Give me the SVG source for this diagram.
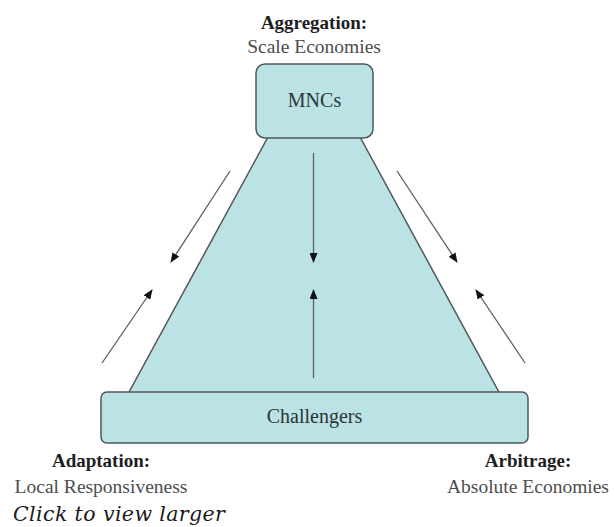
<svg xmlns="http://www.w3.org/2000/svg" width="614" height="527" viewBox="0 0 614 527">
  <style>
    .shape { fill: #bbe2e5; stroke: #4f5858; stroke-width: 1.5; }
    .node-text { font-family: "Liberation Serif", "Times New Roman", serif; font-size: 20px; fill: #2c3636; text-anchor: middle; }
    .head { font-family: "Liberation Serif", "Times New Roman", serif; font-size: 19px; font-weight: bold; fill: #1e1e1e; text-anchor: middle; }
    .sub { font-family: "Liberation Serif", "Times New Roman", serif; font-size: 19.5px; fill: #4d4d4d; text-anchor: middle; }
    .arrow { stroke: #5e5e5e; stroke-width: 1.3; fill: none; marker-end: url(#ah); }
    .caption { font-family: "DejaVu Serif", serif; font-style: italic; font-size: 20.5px; letter-spacing: 0.4px; fill: #1a1a1a; }
  </style>
  <defs>
    <marker id="ah" markerUnits="userSpaceOnUse" markerWidth="10" markerHeight="8" refX="9" refY="4" orient="auto">
      <path d="M0,0 L10,4 L0,8 z" fill="#111"/>
    </marker>
  </defs>
  <rect width="614" height="527" fill="#ffffff"/>

  <g id="pyramid">
    <polygon class="shape" points="268,137 360,137 500,394 128,394"/>
  </g>

  <g id="node-mncs">
    <rect class="shape" x="256" y="64" width="117" height="74" rx="9"/>
    <text class="node-text" x="314.5" y="107">MNCs</text>
  </g>

  <g id="node-challengers">
    <rect class="shape" x="101" y="392" width="427" height="51" rx="6"/>
    <text class="node-text" x="314.5" y="423">Challengers</text>
  </g>

  <g id="connectors">
    <line class="arrow" x1="313.5" y1="153" x2="313.5" y2="262"/>
    <line class="arrow" x1="313.5" y1="378" x2="313.5" y2="290"/>
    <line class="arrow" x1="230" y1="171" x2="171" y2="262"/>
    <line class="arrow" x1="102" y1="363" x2="152" y2="290"/>
    <line class="arrow" x1="397" y1="171" x2="457" y2="262"/>
    <line class="arrow" x1="525" y1="363" x2="476" y2="290"/>
  </g>

  <g id="label-aggregation">
    <text class="head" x="314" y="29">Aggregation:</text>
    <text class="sub" x="314" y="53">Scale Economies</text>
  </g>
  <g id="label-adaptation">
    <text class="head" x="101" y="467">Adaptation:</text>
    <text class="sub" x="101" y="493">Local Responsiveness</text>
  </g>
  <g id="label-arbitrage">
    <text class="head" x="528" y="467">Arbitrage:</text>
    <text class="sub" x="528" y="493">Absolute Economies</text>
  </g>

  <text class="caption" x="13" y="521">Click to view larger</text>
</svg>
